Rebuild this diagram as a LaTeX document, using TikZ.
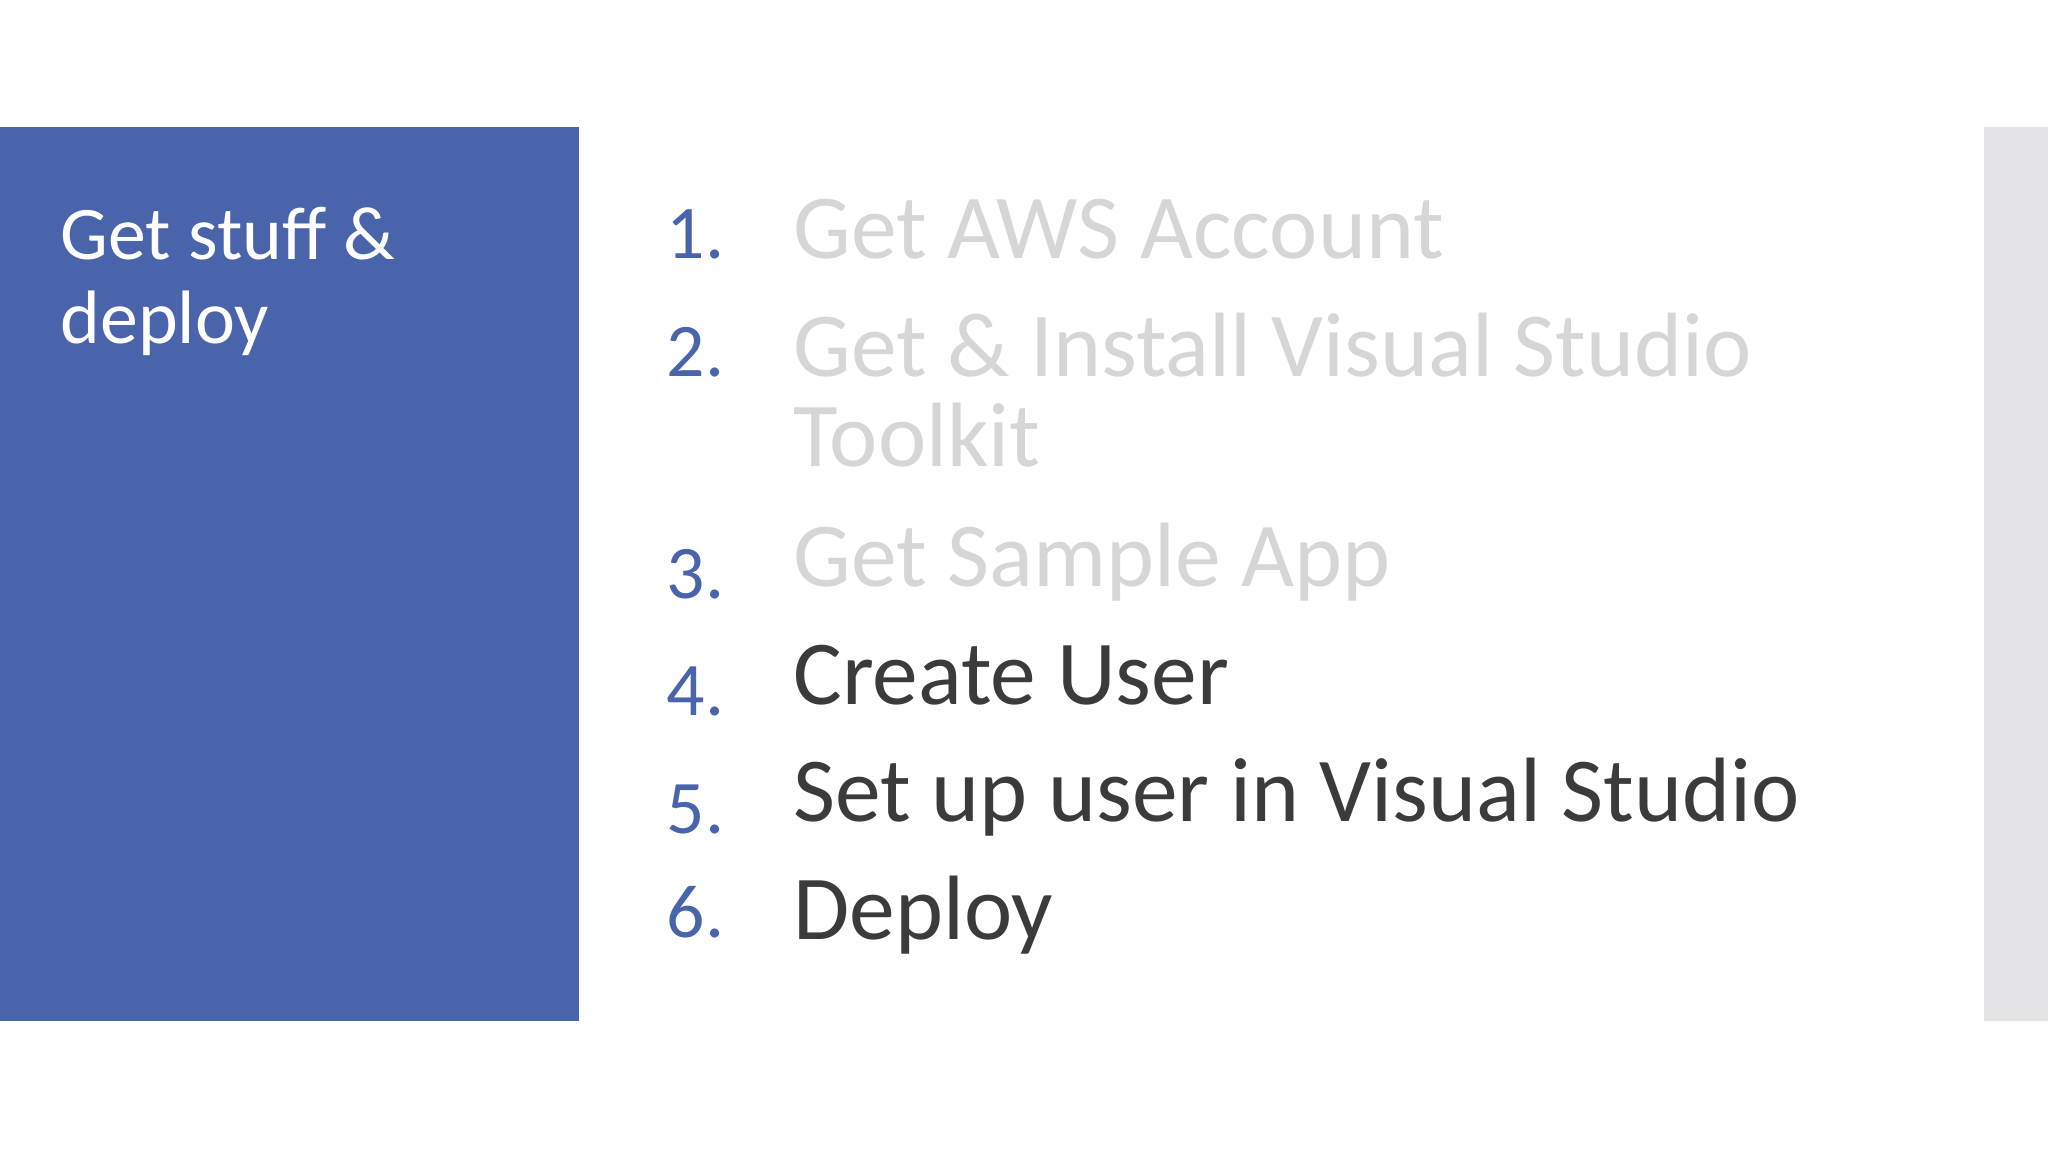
\documentclass[tikz,border=0pt]{standalone}
\usepackage{fontspec}
\setmainfont{Carlito}
\definecolor{blueP}{HTML}{4A64AC}
\definecolor{grayP}{HTML}{E4E4E6}
\definecolor{dimT}{HTML}{D6D6D6}
\definecolor{darkT}{HTML}{3B3B3B}
\begin{document}
\begin{tikzpicture}[x=0.5pt,y=-0.5pt,
  num/.style={anchor=base west,inner sep=0pt,text=blueP,font=\fontsize{29}{34}\selectfont},
  item/.style={anchor=base west,inner sep=0pt,font=\fontsize{35}{40}\selectfont},
  ttl/.style={anchor=base west,inner sep=0pt,text=white,font=\fontsize{29}{34}\selectfont}]
\useasboundingbox (0,0) rectangle (1568,882);
\fill[white] (0,0) rectangle (1568,882);
\fill[blueP] (0,97) rectangle (443,782);
\fill[grayP] (1519,97) rectangle (1568,782);
\node[ttl] (t1) at (46,199) {Get stuff \&};
\node[ttl] (t2) at (46,263) {deploy};
\node[num] (n1) at (510,198) {1.};
\node[num] (n2) at (510,288) {2.};
\node[num] (n3) at (510,458) {3.};
\node[num] (n4) at (510,548) {4.};
\node[num] (n5) at (510,638) {5.};
\node[num] (n6) at (510,718) {6.};
\node[item,text=dimT] (i1) at (607,198) {Get AWS Account};
\node[item,text=dimT] (i2) at (607,288) {Get \& Install Visual Studio};
\node[item,text=dimT] (i2b) at (607,357) {Toolkit};
\node[item,text=dimT] (i3) at (607,449) {Get Sample App};
\node[item,text=darkT] (i4) at (607,539) {Create User};
\node[item,text=darkT] (i5) at (607,629) {Set up user in Visual Studio};
\node[item,text=darkT] (i6) at (607,719) {Deploy};
\end{tikzpicture}
\end{document}
